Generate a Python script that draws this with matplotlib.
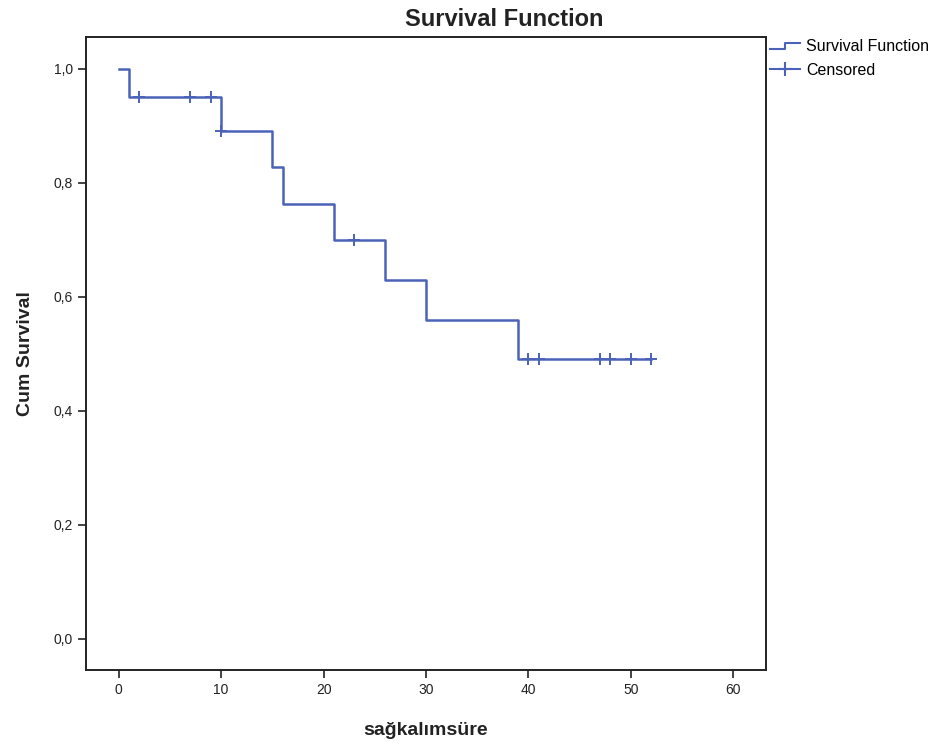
import matplotlib
matplotlib.use("Agg")
import matplotlib.pyplot as plt
from matplotlib.lines import Line2D
from matplotlib.legend_handler import HandlerBase
from matplotlib.ticker import FuncFormatter

# Kaplan-Meier estimate: event times and survival after each step
event_times = [0, 1, 10, 15, 16, 21, 26, 30, 39]
survival = [1.0, 0.95, 0.891, 0.827, 0.763, 0.700, 0.630, 0.560, 0.490]
last_time = 52

# Censored observations
censor_times = [2, 7, 9, 10, 23, 40, 41, 47, 48, 50, 52]

title = "Survival Function"
xlabel = "sağkalımsüre"
ylabel = "Cum Survival"
xticks = [0, 10, 20, 30, 40, 50, 60]
yticks = [0.0, 0.2, 0.4, 0.6, 0.8, 1.0]

blue = "#4a62b8"
plt.rcParams["font.family"] = ["Liberation Sans", "DejaVu Sans"]


def surv_at(t):
    s = survival[0]
    for et, sv in zip(event_times, survival):
        if et <= t:
            s = sv
    return s


class StepHandler(HandlerBase):
    def create_artists(self, legend, orig_handle, xdescent, ydescent,
                       width, height, fontsize, trans):
        x0, x1 = -xdescent, -xdescent + width
        ylo = -ydescent + height * 0.15
        yhi = -ydescent + height * 0.75
        xm = x0 + width * 0.5
        line = Line2D([x0, xm, xm, x1], [ylo, ylo, yhi, yhi],
                      color=orig_handle.get_color(),
                      linewidth=orig_handle.get_linewidth(), transform=trans)
        return [line]


fig = plt.figure(figsize=(9.46, 7.46), dpi=100)
ax = fig.add_axes([0.0909, 0.1019, 0.7188, 0.8485])

xs = event_times + [last_time]
ys = survival + [survival[-1]]
ax.step(xs, ys, where="post", color=blue, linewidth=1.8)

cy = [surv_at(t) for t in censor_times]
ax.plot(censor_times, cy, linestyle="none", marker="+", markersize=8.5,
        markeredgewidth=1.4, color=blue)

ax.set_xlim(-3.2, 63.2)
ax.set_ylim(-0.055, 1.056)
ax.set_xticks(xticks)
ax.set_yticks(yticks)
ax.yaxis.set_major_formatter(FuncFormatter(lambda v, p: f"{v:.1f}".replace(".", ",")))
ax.tick_params(direction="out", length=6, width=1.2, labelsize=10, colors="#222222")

for sp in ax.spines.values():
    sp.set_linewidth(1.4)
    sp.set_color("#222222")

fig.text(0.5335, 0.974, title, ha="center", va="center", fontsize=17,
         fontweight="bold", color="#222222")
ax.set_xlabel(xlabel, fontsize=14, fontweight="bold", labelpad=18, color="#222222")
ax.set_ylabel(ylabel, fontsize=14, fontweight="bold", labelpad=14, color="#222222")

h1 = Line2D([], [], color=blue, linewidth=1.5)
h2 = Line2D([], [], color=blue, linewidth=1.5, marker="+", markersize=10,
            markeredgewidth=1.5)
ax.legend([h1, h2], ["Survival Function", "Censored"],
          handler_map={h1: StepHandler()},
          loc="upper left", bbox_to_anchor=(1.0, 1.003), frameon=False,
          fontsize=11.5, handlelength=1.85, handletextpad=0.4, labelspacing=0.55,
          borderaxespad=0.0, borderpad=0.25, numpoints=1)

fig.savefig("out.png", dpi=100)
